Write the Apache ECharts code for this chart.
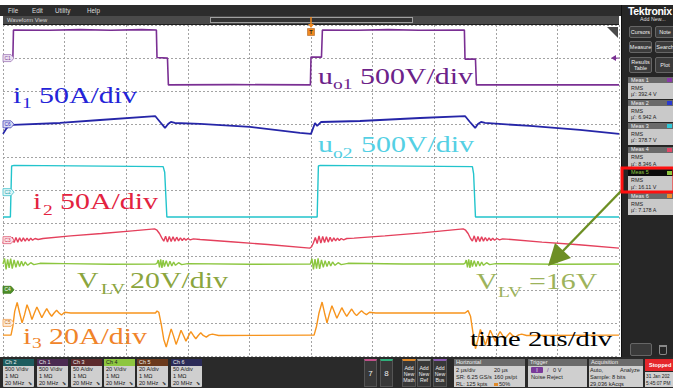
<!DOCTYPE html>
<html>
<head>
<meta charset="utf-8">
<script src="https://cdn.jsdelivr.net/npm/echarts@6/dist/echarts.min.js"></script>
<style>
  html, body { margin: 0; padding: 0; background: #fff; }
  #wrap { position: relative; width: 673px; height: 388px; overflow: hidden; font-family: 'Liberation Sans', sans-serif; }
  .abs { position: absolute; box-sizing: border-box; white-space: nowrap; }
  .t { font-size: 5.6px; line-height: 7px; }
  .btn { background: #3b3b3b; border: 1px solid #666; border-radius: 2px; color: #eee; font-size: 5.5px; line-height: 6px;
         display: flex; align-items: center; justify-content: center; text-align: center; }
  #chart { position: absolute; left: 0; top: 0; width: 673px; height: 388px; z-index: 5; }
</style>
</head>
<body>
<div id="wrap">
  <div id="chart"></div>
</div>
<script>
// time in µs (2 µs/div, 10 div), level in screen divisions (0 bottom .. 10 top)
const uo1 = [[0,9.0],[0.32,9.0],[0.34,9.85],[1.5,9.84],[2.5,9.86],[3.5,9.84],[4.5,9.86],[4.98,9.85],[5.0,9.02],[5.34,9.0],[5.37,8.19],
  [7.5,8.2],[9.98,8.19],[10.0,9.03],[10.34,9.03],[10.37,9.85],[11.5,9.84],[12.5,9.86],[13.5,9.84],[14.98,9.85],[15.0,8.97],[15.34,8.97],[15.37,8.19],[20,8.19]];

const i1 = [[0,6.71],[0.1,6.86],[0.19,6.95],[0.32,6.98],[1.85,7.04],[3.15,7.13],[4.94,7.25],[5.1,7.07],[5.26,6.89],[5.36,7.01],[5.45,7.07],
  [5.58,7.04],[6.4,7.01],[8.02,6.92],[9.64,6.74],[10.0,6.71],[10.13,7.04],[10.2,6.95],[10.33,7.07],[11.59,7.1],[13.54,7.19],[15.0,7.25],
  [15.16,7.07],[15.33,6.89],[15.42,7.01],[15.52,7.07],[15.65,7.04],[17.11,6.95],[18.73,6.83],[20,6.71]];

const uo2 = [[0,4.2],[0.24,4.2],[0.28,5.74],[0.36,5.76],[5.2,5.72],[5.25,5.55],[5.32,4.2],[10.2,4.2],[10.24,5.74],[10.3,5.76],
  [15.24,5.72],[15.28,5.5],[15.34,4.2],[20,4.2]];

const i2 = [[0,3.40],[0.06,3.58],[0.12,3.41],[0.18,3.60],[0.24,3.42],[0.30,3.59],[0.36,3.43],[0.42,3.58],[0.48,3.44],[0.54,3.57],[0.60,3.46],
  [0.66,3.57],[0.72,3.47],[0.78,3.56],[0.84,3.48],[0.90,3.56],[0.96,3.50],[1.04,3.55],[1.14,3.52],[1.3,3.55],[2.2,3.63],[3.2,3.70],[4.2,3.78],[4.92,3.84],
  [5.0,3.80],[5.08,3.70],[5.16,3.56],[5.22,3.47],[5.28,3.62],[5.34,3.44],[5.40,3.61],[5.46,3.46],[5.52,3.60],[5.58,3.47],[5.64,3.59],[5.70,3.48],
  [5.76,3.57],[5.82,3.49],[5.88,3.56],[5.94,3.50],[6.0,3.55],[6.08,3.51],[6.18,3.54],[6.4,3.52],[7.4,3.45],[8.6,3.37],[9.96,3.26],
  [10.02,3.30],[10.08,3.42],[10.14,3.58],[10.20,3.40],[10.26,3.63],[10.32,3.41],[10.38,3.61],[10.44,3.43],[10.50,3.60],[10.56,3.44],[10.62,3.59],
  [10.68,3.46],[10.74,3.57],[10.80,3.48],[10.86,3.56],[10.92,3.49],[10.98,3.55],[11.06,3.51],[11.16,3.55],[11.4,3.56],[12.4,3.63],[13.6,3.72],[14.94,3.84],
  [15.02,3.80],[15.1,3.70],[15.18,3.55],[15.24,3.47],[15.30,3.63],[15.36,3.44],[15.42,3.61],[15.48,3.46],[15.54,3.60],[15.60,3.47],[15.66,3.58],
  [15.72,3.48],[15.78,3.57],[15.84,3.49],[15.90,3.56],[15.96,3.50],[16.04,3.55],[16.12,3.51],[16.22,3.54],[16.5,3.52],[17.5,3.44],[18.7,3.36],[20,3.26]];

const vlv = [[0,2.78],[0.05,2.95],[0.1,2.62],[0.15,2.92],[0.2,2.66],[0.25,2.94],[0.3,2.64],[0.36,2.9],[0.42,2.68],[0.48,2.88],[0.54,2.7],
  [0.6,2.86],[0.66,2.72],[0.72,2.84],[0.8,2.74],[0.9,2.82],[1.0,2.76],[1.2,2.8],[2,2.79],[3.5,2.77],[4.96,2.78],
  [5.0,2.8],[5.04,2.9],[5.08,2.68],[5.12,2.92],[5.16,2.66],[5.2,2.9],[5.24,2.7],[5.3,2.88],[5.36,2.7],[5.42,2.86],[5.48,2.72],[5.54,2.84],
  [5.6,2.74],[5.7,2.82],[5.8,2.76],[6,2.79],[8,2.77],[9.98,2.78],
  [10.03,2.94],[10.08,2.62],[10.13,2.93],[10.18,2.64],[10.23,2.95],[10.28,2.63],[10.34,2.9],[10.4,2.68],[10.46,2.88],[10.52,2.7],[10.58,2.86],
  [10.64,2.72],[10.7,2.84],[10.78,2.74],[10.88,2.82],[10.98,2.76],[11.2,2.8],[13,2.78],[14.96,2.78],
  [15.0,2.8],[15.04,2.9],[15.08,2.68],[15.12,2.92],[15.16,2.66],[15.2,2.9],[15.24,2.7],[15.3,2.88],[15.36,2.7],[15.42,2.86],[15.48,2.72],
  [15.54,2.84],[15.6,2.74],[15.7,2.82],[15.8,2.76],[16,2.79],[18,2.77],[20,2.78]];

const i3 = [[0,0.63],[0.26,0.63],[0.32,0.9],[0.38,1.35],[0.46,1.62],[0.54,1.3],[0.62,1.0],[0.7,1.25],[0.78,1.55],[0.86,1.35],[0.94,1.1],
  [1.02,1.3],[1.1,1.48],[1.18,1.32],[1.26,1.16],[1.34,1.3],[1.42,1.43],[1.5,1.3],[1.58,1.2],[1.66,1.3],[1.74,1.38],[1.82,1.3],[1.9,1.24],
  [2.0,1.32],[2.2,1.3],[4.95,1.3],
  [5.0,1.36],[5.06,1.32],[5.14,0.95],[5.22,0.5],[5.3,0.27],[5.38,0.55],[5.46,0.82],[5.54,0.6],[5.62,0.35],[5.7,0.55],[5.78,0.78],[5.86,0.62],
  [5.94,0.45],[6.02,0.6],[6.1,0.74],[6.18,0.62],[6.26,0.52],[6.34,0.62],[6.42,0.7],[6.5,0.62],[6.6,0.57],[6.7,0.64],[6.8,0.66],[7,0.62],[9.98,0.63],
  [10.1,0.63],[10.18,0.9],[10.26,1.3],[10.36,1.63],[10.44,1.3],[10.52,1.0],[10.6,1.28],[10.68,1.52],[10.76,1.33],[10.84,1.14],[10.92,1.3],
  [11.0,1.46],[11.08,1.32],[11.16,1.2],[11.24,1.31],[11.32,1.42],[11.4,1.3],[11.48,1.22],[11.56,1.3],[11.64,1.37],[11.72,1.3],[11.8,1.25],
  [11.9,1.32],[12.1,1.3],[14.95,1.3],
  [15.0,1.3],[15.1,1.37],[15.18,1.2],[15.26,0.7],[15.34,0.22],[15.42,0.5],[15.5,0.8],[15.58,0.6],[15.66,0.33],[15.74,0.55],[15.82,0.78],
  [15.9,0.62],[15.98,0.45],[16.06,0.6],[16.14,0.74],[16.22,0.62],[16.3,0.52],[16.38,0.62],[16.46,0.7],[16.54,0.62],[16.64,0.57],[16.74,0.64],
  [16.84,0.66],[17,0.62],[20,0.63]];

// channel offset markers on the left edge
const chTags = ['C1', 'C6', 'C2', 'C3', 'C4', 'C5'];
const chLevels = [9.0, 7.0, 4.95, 3.5, 2.0, 1.0];
const trigTime = 10;

// right panel measurements
const measNames = ['Meas 1', 'Meas 2', 'Meas 3', 'Meas 4', 'Meas 5', 'Meas 6'];
const measValues = ["µ': 392.4 V", "µ': 6.942 A", "µ': 378.7 V", "µ': 8.346 A", "µ': 16.11 V", "µ': 7.178 A"];
const measColors = ['#8a3aa8', '#2a3ad0', '#30c8d8', '#e04868', '#8dc63f', '#f08a2a'];

// bottom channel badges
const chNames = ['Ch 2', 'Ch 1', 'Ch 3', 'Ch 4', 'Ch 5', 'Ch 6'];
const chScales = ['500 V/div', '500 V/div', '50 A/div', '20 V/div', '20 A/div', '50 A/div'];
const chHeadColors = ['#1d5c5e', '#4b2a52', '#5c2a2c', '#8dc63f', '#6b3a1c', '#2b2b58'];

const wrap = document.getElementById('wrap');
function box(x, y, w, h, css, html) {
  const d = document.createElement('div');
  d.className = 'abs';
  d.style.cssText = `left:${x}px;top:${y}px;width:${w}px;height:${h}px;` + (css || '');
  if (html != null) d.innerHTML = html;
  wrap.appendChild(d);
  return d;
}
function txt(x, y, s, css) {
  const d = document.createElement('div');
  d.className = 'abs t';
  d.style.cssText = `left:${x}px;top:${y}px;` + (css || '');
  d.textContent = s;
  wrap.appendChild(d);
  return d;
}

// top menu + waveform view bar
box(0, 5, 673, 11, 'background:#2c2c2c');
[['File', 8], ['Edit', 32], ['Utility', 55], ['Help', 87]].forEach(([s, x]) => txt(x, 7, s, 'color:#ddd;font-size:6.3px'));
box(3, 16, 616, 9, 'background:#4a4a4a;border-bottom:1px solid #1e1e1e');
txt(7, 16.5, 'Waveform View', 'color:#d4d4d4;font-size:5.8px');
box(210, 17, 203, 6, 'border:1px solid #a0a0a0;background:#333');

// right side panel
box(621, 5, 52, 352, 'background:#262626;border-left:1px solid #111');
txt(628, 5, 'Tektronix', 'color:#fff;font-weight:bold;font-size:10.5px;line-height:12px;letter-spacing:-0.3px');
txt(640, 16, 'Add New...', 'color:#ddd;font-size:5.3px');
[['Cursors', 629, 26, 23, 12], ['Note', 655, 26, 20, 12], ['Measure', 629, 41, 23, 12], ['Search', 655, 41, 20, 12],
 ['Results<br>Table', 629, 57, 23, 16], ['Plot', 655, 57, 20, 16]].forEach(([s, x, y, w, h]) => box(x, y, w, h, '', s).classList.add('btn'));
measNames.forEach((name, k) => {
  const y = 77 + k * 23.2;
  const sel = k === 4;
  box(628, y, 46, 6, 'background:' + (sel ? '#0c0c0c' : '#6a6a6a'));
  txt(631, y - 0.5, name, 'color:' + (sel ? '#8dc63f' : '#f0f0f0') + ';font-size:5.4px');
  box(667, y + 1, 5, 4, 'background:' + measColors[k]);
  box(628, y + 6, 46, 15.5, 'background:#c9c9c9');
  txt(631, y + 7.5, 'RMS', 'color:#222;font-size:5.4px');
  txt(631, y + 14, measValues[k], 'color:#222;font-size:5.4px');
});
box(630, 343, 22, 13, 'background:#3a3a3a;border:1px solid #666;border-radius:2px');
box(659, 345, 8, 10, 'border:1px solid #888;border-top-width:2px;border-radius:0 0 2px 2px');

// bottom bar
box(0, 357, 673, 31, 'background:#2a2a2a');
chNames.forEach((name, k) => {
  const x = [3, 37, 71, 104, 137, 171][k];
  box(x, 359, 31, 28, 'background:#cfcfcf;border-radius:1px');
  box(x, 359, 31, 6.5, 'background:' + chHeadColors[k]);
  txt(x + 2, 358.5, name, 'color:' + (k === 3 ? '#1a1a1a' : '#eee') + ';font-size:5.4px');
  txt(x + 2, 366, chScales[k], 'color:#222');
  txt(x + 2, 373, '1 MΩ', 'color:#222');
  txt(x + 2, 380, '20 MHz', 'color:#222');
  txt(x + 25, 380, '⬊', 'color:#444;font-size:5px');
});
[['7', 364, '#c0508a'], ['8', 380, '#2fae7a']].forEach(([s, x, c]) => {
  box(x, 359, 13, 28, 'background:#383838;border:1px solid #555;border-top:2px solid ' + c + ';color:#eee;font-size:8px;display:flex;align-items:center;justify-content:center', s);
});
[['Math', 402, '#e08a2a'], ['Ref', 417, '#9a9a9a'], ['Bus', 433, '#8a5ab0']].forEach(([s, x, c]) => {
  box(x, 359, 14, 28, 'background:#383838;border:1px solid #555;border-top:2px solid ' + c + ';color:#eee;font-size:5.2px;line-height:6px;display:flex;align-items:center;justify-content:center;text-align:center', 'Add<br>New<br>' + s);
});
function panel(x, w, title) {
  box(x, 359, w, 28, 'background:#cfcfcf');
  box(x, 359, w, 6.5, 'background:#6b6b6b');
  txt(x + 2, 358.5, title, 'color:#eee;font-size:5.6px');
}
panel(454, 71, 'Horizontal');
txt(456, 367, '2 µs/div', 'color:#222'); txt(494, 367, '20 µs', 'color:#222');
txt(456, 374, 'SR: 6.25 GS/s', 'color:#222'); txt(494, 374, '160 ps/pt', 'color:#222');
txt(456, 381, 'RL: 125 kpts', 'color:#222'); box(494, 382.5, 3.5, 3.5, 'background:#e08a2a'); txt(499, 381, '50%', 'color:#222');
panel(528, 59, 'Trigger');
box(531, 367, 12, 6, 'background:#7a3a9a;border-radius:1px;color:#fff;font-size:5px;line-height:6px;text-align:center', 'I');
txt(547, 366.5, '/', 'color:#7a3a9a;font-size:6px'); txt(553, 367, '0 V', 'color:#222');
txt(531, 374, 'Noise Reject', 'color:#222');
panel(589, 54, 'Acquisition');
txt(590, 367, 'Auto,', 'color:#222'); txt(620, 367, 'Analyze', 'color:#222');
txt(590, 374, 'Sample: 8 bits', 'color:#222');
txt(590, 381, '29,036 kAcqs', 'color:#222');
box(645, 359, 30, 12, 'background:#e5262b;color:#fff;font-size:5.6px;font-weight:bold;line-height:12px;padding-left:4px', 'Stopped');
box(645, 372, 30, 15, 'background:#d0d0d0');
txt(646, 373, '31 Jan 202', 'color:#222;font-size:4.8px'); txt(646, 380, '5:45:07 PM', 'color:#222;font-size:4.8px');

// ---- the scope screen ----
const chart = echarts.init(document.getElementById('chart'), null, { renderer: 'svg', width: 673, height: 388 });
const axisCommon = {
  type: 'value',
  axisLine: { show: false },
  axisTick: { show: false },
  axisLabel: { show: false },
  splitLine: { lineStyle: { color: '#a3a3a3', type: [2, 2], width: 1 } },
};
const traces = [
  { name: 'uo1', data: uo1, color: '#7a2f93', width: 1.6 },
  { name: 'i1', data: i1, color: '#2626a8', width: 1.8 },
  { name: 'uo2', data: uo2, color: '#22c4cc', width: 1.4 },
  { name: 'i2', data: i2, color: '#e4405c', width: 1.4 },
  { name: 'VLV', data: vlv, color: '#8cc63f', width: 1.4 },
  { name: 'i3', data: i3, color: '#f7941d', width: 1.4 },
];
chart.setOption({
  animation: false,
  grid: { left: 3, top: 25, width: 616, height: 331 },
  xAxis: { ...axisCommon, min: 0, max: 20, interval: 2 },
  yAxis: { ...axisCommon, min: 0, max: 10, interval: 1 },
  series: traces.map(t => ({
    name: t.name,
    type: 'line',
    data: t.data,
    symbol: 'none',
    lineStyle: { color: t.color, width: t.width },
    z: 3,
  })),
});

// tag markers on the left edge
const tagStyle = [
  { fill: '#ece2f2', stroke: '#a078b8', text: '#7a3a93' },
  { fill: '#d9daf4', stroke: '#4a4ab8', text: '#2a2ab0' },
  { fill: '#def5f7', stroke: '#44c2cc', text: '#22a0aa' },
  { fill: '#fbe2e7', stroke: '#e06078', text: '#d03050' },
  { fill: '#4e8e2a', stroke: '#3c7a1a', text: '#ffffff' },
  { fill: '#fdecda', stroke: '#f0a050', text: '#c07020' },
];
const graphics = [];
chTags.forEach((tag, k) => {
  const [, py] = chart.convertToPixel({ gridIndex: 0 }, [0, chLevels[k]]);
  const s = tagStyle[k];
  graphics.push({
    type: 'polygon', z: 20,
    shape: { points: [[3, py - 3.5], [11, py - 3.5], [14, py], [11, py + 3.5], [3, py + 3.5]] },
    style: { fill: s.fill, stroke: s.stroke, lineWidth: 0.8 },
  });
  graphics.push({
    type: 'text', z: 21, x: 4.5, y: py,
    style: { text: tag, fill: s.text, font: '4.8px "Liberation Sans"', textVerticalAlign: 'middle' },
  });
});

// trigger position marker
const [tx] = chart.convertToPixel({ gridIndex: 0 }, [trigTime, 10]);
graphics.push({ type: 'line', z: 20, shape: { x1: tx, y1: 17, x2: tx, y2: 27 }, style: { stroke: '#f08a20', lineWidth: 1.5 } });
graphics.push({ type: 'polygon', z: 20, shape: { points: [[tx - 3, 24], [tx + 3, 24], [tx, 28]] }, style: { fill: '#f08a20' } });
graphics.push({ type: 'rect', z: 20, shape: { x: tx - 3.5, y: 28.5, width: 7, height: 7 }, style: { fill: '#f08a20', stroke: '#a05010', lineWidth: 0.5 } });
graphics.push({ type: 'text', z: 21, x: tx, y: 32, style: { text: 'T', fill: '#222', font: 'bold 5.5px "Liberation Sans"', textAlign: 'center', textVerticalAlign: 'middle' } });

// trigger level arrow on the right, corner badge
const [, ly] = chart.convertToPixel({ gridIndex: 0 }, [20, chLevels[0]]);
graphics.push({ type: 'polygon', z: 20, shape: { points: [[611, ly], [616, ly - 3], [616, ly + 3]] }, style: { fill: '#7a2f93' } });
graphics.push({ type: 'line', z: 20, shape: { x1: 615, y1: ly, x2: 619, y2: ly }, style: { stroke: '#7a2f93', lineWidth: 1 } });
graphics.push({ type: 'polygon', z: 20, shape: { points: [[607, 27], [618, 27], [618, 38]] }, style: { fill: '#4a4a4a' } });

// annotations (serif, stretched horizontally like the figure)
const notes = [
  ['u', 318, 83, 23, '#6c2289'], ['o1', 333, 89, 15, '#6c2289'], ['500V/div', 360, 83, 23, '#6c2289'],
  ['i', 13, 102, 23, '#2424d8'], ['1', 22, 108, 15, '#2424d8'], ['50A/div', 39, 102, 23, '#2424d8'],
  ['u', 318, 151, 23, '#55d0e4'], ['o2', 333, 158, 15, '#55d0e4'], ['500V/div', 361, 151, 23, '#55d0e4'],
  ['i', 33, 208, 23, '#e3233f'], ['2', 43, 215, 15, '#e3233f'], ['50A/div', 60, 208, 23, '#e3233f'],
  ['V', 77, 287, 23, '#8ba53d'], ['LV', 101, 294, 15, '#8ba53d'], ['20V/div', 130, 287, 23, '#8ba53d'],
  ['V', 476, 288, 23, '#9db35c'], ['LV', 498, 297, 15, '#9db35c'], ['=16V', 529, 288, 23, '#9db35c'],
  ['i', 23, 343, 23, '#f0842a'], ['3', 32, 348, 15, '#f0842a'], ['20A/div', 49, 343, 23, '#f0842a'],
  ['time 2us/div', 470, 345, 22, '#000000'],
];
notes.forEach(([s, x, base, fs, c]) => {
  graphics.push({
    type: 'text', z: 30, x: x, y: base - 0.3 * fs, scaleX: 1.3,
    style: { text: s, fill: c, font: fs + 'px "Liberation Serif"', textVerticalAlign: 'middle' },
  });
});

// arrow from the Meas 5 readout to the V_LV trace
graphics.push({ type: 'line', z: 31, shape: { x1: 622, y1: 190, x2: 560, y2: 254 }, style: { stroke: '#6d8f24', lineWidth: 2.4 } });
graphics.push({ type: 'polygon', z: 31, shape: { points: [[548, 266], [555, 243], [571, 258]] }, style: { fill: '#6d8f24' } });
// highlight box round Meas 5
graphics.push({ type: 'rect', z: 32, shape: { x: 622, y: 168, width: 52, height: 24 }, style: { fill: 'none', stroke: '#ff1010', lineWidth: 3 } });

chart.setOption({ graphic: graphics });
</script>
</body>
</html>
